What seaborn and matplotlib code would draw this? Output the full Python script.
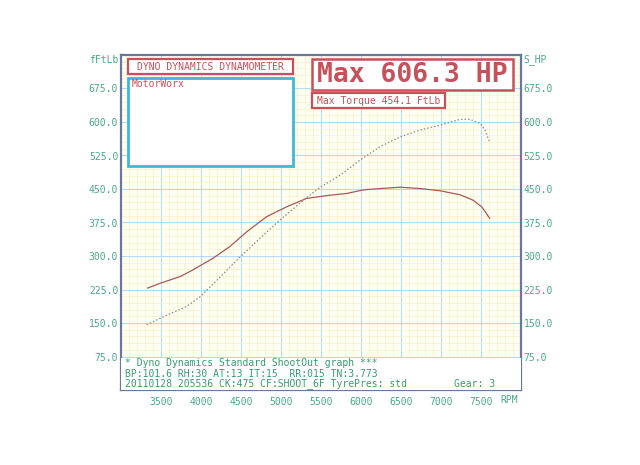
import matplotlib
matplotlib.use("Agg")
import matplotlib.pyplot as plt
from matplotlib.patches import Rectangle
from matplotlib.ticker import MultipleLocator
import pandas as pd
import seaborn as sns

# torque curve (ft-lb)
rpm_torque = [3330, 3490, 3740, 3900, 4150, 4360, 4570, 4820, 5070, 5320, 5610,
              5820, 6030, 6240, 6490, 6740, 6990, 7240, 7400, 7510, 7610]
torque = [228, 239, 254, 269, 295, 321, 354, 388, 410, 429, 436,
          440, 448, 451, 454, 451, 446, 437, 425, 410, 384]

# power curve (hp), dotted
rpm_power = [3320, 3530, 3820, 3990, 4200, 4490, 4780, 4990, 5280, 5490, 5740,
             5990, 6240, 6490, 6740, 6990, 7240, 7360, 7490, 7550, 7610]
power = [146, 164, 187, 209, 246, 298, 347, 381, 425, 454, 481,
         515, 545, 567, 582, 593, 606, 606, 597, 582, 554]

x_ticks = [3500, 4000, 4500, 5000, 5500, 6000, 6500, 7000, 7500]
y_ticks = [75, 150, 225, 300, 375, 450, 525, 600, 675]

footer = ["* Dyno Dynamics Standard ShootOut graph ***",
          "BP:101.6 RH:30 AT:13 IT:15  RR:015 TN:3.773",
          "20110128 205536 CK:475 CF:SHOOT_6F TyrePres: std        Gear: 3"]

df_t = pd.DataFrame({"rpm": rpm_torque, "val": torque})
df_p = pd.DataFrame({"rpm": rpm_power, "val": power})

sns.set_style("white")
plt.rcParams["font.family"] = ["DejaVu Sans Mono"]

RED = "#c8505a"
GREEN = "#3a9a70"
TEAL = "#4aa88a"
CYAN = "#3fb8d6"
FRAME = "#6a7896"

W, H = 640, 465
def fx(x): return x / W
def fy(y): return 1 - y / H

fig = plt.figure(figsize=(6.4, 4.65), dpi=100)
fig.patch.set_facecolor("white")
ax = fig.add_axes([fx(121), fy(390), 400 / W, 335 / H])
ax.set_facecolor("#fffff2")

sns.lineplot(data=df_t, x="rpm", y="val", ax=ax, color="#a85858", lw=0.9)
sns.lineplot(data=df_p, x="rpm", y="val", ax=ax, color="#8a8a8a", lw=0.9,
             linestyle=(0, (1.2, 1.6)))

ax.set_xlim(3000, 8000)
ax.set_ylim(0, 750)
ax.set_xticks(x_ticks)
ax.set_yticks(y_ticks)
ax.set_xticklabels([str(v) for v in x_ticks])
ax.set_yticklabels(["%.1f" % v for v in y_ticks])
ax.xaxis.set_minor_locator(MultipleLocator(100))
ax.yaxis.set_minor_locator(MultipleLocator(15))
ax.grid(which="minor", color="#f6f2cc", lw=0.5)
ax.grid(which="major", color="#b4dcf0", lw=0.8)
ax.set_axisbelow(True)
ax.set_xlabel("")
ax.set_ylabel("")
ax.tick_params(axis="both", which="both", length=0, labelsize=7, colors=TEAL)
ax.tick_params(axis="y", labelright=True, pad=2)
ax.tick_params(axis="x", pad=5)
for s in ax.spines.values():
    s.set_color(FRAME)
    s.set_linewidth(1.6)

# white footer panel inside the frame
ax.add_patch(Rectangle((0, 0), 1, 0.097, transform=ax.transAxes,
                       facecolor="white", edgecolor="none", zorder=3))
for i, line in enumerate(footer):
    fig.text(fx(125), fy(363 + i * 10.5), line, fontsize=7, color=GREEN,
             va="center", ha="left")

fig.text(fx(500), fy(400), "RPM", fontsize=7, color=TEAL, va="center", ha="left")
fig.text(fx(118), fy(60), "fFtLb", fontsize=7, color=TEAL, va="center", ha="right")
fig.text(fx(523), fy(60), "S_HP", fontsize=7, color=TEAL, va="center", ha="left")

# header boxes
def box(x0, y0, x1, y1, ec, lw):
    fig.add_artist(Rectangle((fx(x0), fy(y1)), fx(x1) - fx(x0), fy(y0) - fy(y1),
                             transform=fig.transFigure, facecolor="white",
                             edgecolor=ec, lw=lw, zorder=5))

box(128, 59, 293, 74, RED, 1.6)
fig.text(fx(210), fy(66.5), "DYNO DYNAMICS DYNAMOMETER", fontsize=7, color=RED,
         ha="center", va="center", zorder=6)
box(128, 78, 293, 166, CYAN, 2.0)
fig.text(fx(132), fy(84), "MotorWorx", fontsize=7, color=RED,
         ha="left", va="center", zorder=6)
box(312, 59, 513, 90, RED, 1.8)
fig.text(fx(412.5), fy(75), "Max 606.3 HP", fontsize=19, fontweight="bold",
         color=RED, ha="center", va="center", zorder=6)
box(312, 93, 445, 108, RED, 1.6)
fig.text(fx(378.5), fy(100.5), "Max Torque 454.1 FtLb", fontsize=7, color=RED,
         ha="center", va="center", zorder=6)

fig.savefig("out.png", dpi=100)
